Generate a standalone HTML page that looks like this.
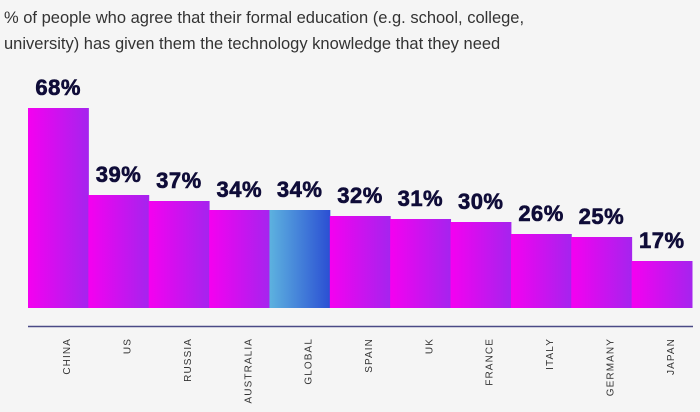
<!DOCTYPE html>
<html><head><meta charset="utf-8"><style>
html,body{margin:0;padding:0;background:#f5f5f5;}
body{width:700px;height:407px;overflow:hidden;font-family:"Liberation Sans",sans-serif;}
</style></head><body>
<svg id="chart" width="700" height="407">
<defs>
<linearGradient id="gPink" x1="0" x2="1" y1="0" y2="0"><stop offset="0" stop-color="#f500f0"/><stop offset="1" stop-color="#a524ee"/></linearGradient>
<linearGradient id="gBlue" x1="0" x2="1" y1="0" y2="0"><stop offset="0" stop-color="#5db2df"/><stop offset="1" stop-color="#2b4fd3"/></linearGradient>
</defs>
<text x="4" y="23" font-size="16.5" fill="#333">% of people who agree that their formal education (e.g. school, college,</text>
<text x="4" y="49" font-size="16.5" fill="#333">university) has given them the technology knowledge that they need</text>
<line x1="28" x2="693" y1="326.5" y2="326.5" stroke="#4a4a86" stroke-width="1.5"/>
<g id="bars"></g>
</svg>
<script>
const categories = ["CHINA","US","RUSSIA","AUSTRALIA","GLOBAL","SPAIN","UK","FRANCE","ITALY","GERMANY","JAPAN"];
const values = [68,39,37,34,34,32,31,30,26,25,17];
const valueLabels = ["68%","39%","37%","34%","34%","32%","31%","30%","26%","25%","17%"];
const highlight = ["GLOBAL"];

const left = 28, right = 692, base = 308;
const bw = (right-left)/categories.length;
function xPos(i){return left + i*bw;}
function yPos(v){return base - Math.max(0, -4 + 3.0*v);}
const g = document.getElementById('bars');
const ns = "http://www.w3.org/2000/svg";
categories.forEach((c,i)=>{
  const x = xPos(i), y = yPos(values[i]);
  const r = document.createElementNS(ns,'rect');
  r.setAttribute('x',x); r.setAttribute('y',y);
  r.setAttribute('width',bw+0.5); r.setAttribute('height',base-y);
  r.setAttribute('fill', highlight.includes(c) ? 'url(#gBlue)' : 'url(#gPink)');
  
  
  g.appendChild(r);
  const t = document.createElementNS(ns,'text');
  t.setAttribute('x', x + bw/2); t.setAttribute('y', y - 13);
  t.setAttribute('text-anchor','middle');
  t.setAttribute('font-size','22'); t.setAttribute('font-weight','bold');
  t.setAttribute('letter-spacing','0.5');
  t.setAttribute('stroke','#0f0c38'); t.setAttribute('stroke-width','0.6');
  t.setAttribute('fill','#0f0c38');
  t.textContent = valueLabels[i];
  
  
  g.appendChild(t);
  const l = document.createElementNS(ns,'text');
  const lx = x + bw/2 + 12, ly = 338;
  l.setAttribute('x', lx); l.setAttribute('y', ly);
  l.setAttribute('transform', `rotate(-90 ${lx} ${ly})`);
  l.setAttribute('text-anchor','end');
  l.setAttribute('font-size','10'); l.setAttribute('letter-spacing','1.1');
  l.setAttribute('fill','#333');
  l.textContent = c;
  
  
  g.appendChild(l);
});
</script>
</body></html>
